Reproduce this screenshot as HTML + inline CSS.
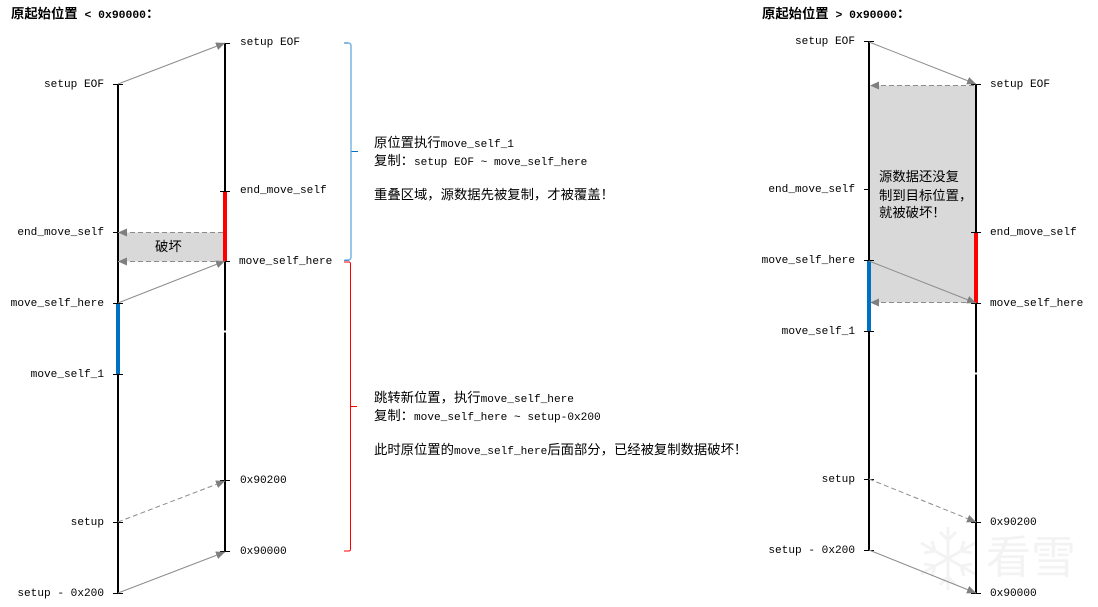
<!DOCTYPE html>
<html lang="zh"><head><meta charset="utf-8"><title>move_self</title>
<style>
html,body{margin:0;padding:0;background:#fff;width:1098px;height:607px;overflow:hidden}
svg{display:block}
text{font-family:"Liberation Mono","WenQuanYi Zen Hei",monospace;font-size:11.11px;fill:#000;white-space:pre}
.c{font-family:"Liberation Sans","WenQuanYi Zen Hei",sans-serif;font-size:13.33px}
.e{text-anchor:end}
.t{font-weight:bold;font-size:11.4px}
.t .c{font-family:"Liberation Sans","Noto Sans CJK SC",sans-serif;font-weight:bold}
.ln{stroke:#000;stroke-width:2;fill:none}
.tk{stroke:#000;stroke-width:1;fill:none}
.ar{stroke:#8c8c8c;stroke-width:1;fill:none}
.da{stroke:#8c8c8c;stroke-width:1;fill:none;stroke-dasharray:5 3}
</style></head><body>
<svg xmlns="http://www.w3.org/2000/svg" width="1098" height="607" viewBox="0 0 1098 607">
<defs>
<marker id="h" markerUnits="userSpaceOnUse" markerWidth="10" markerHeight="8" refX="9" refY="4" orient="auto"><path d="M0 0L9 4L0 8Z" fill="#7f7f7f"/></marker>
</defs>
<rect width="1098" height="607" fill="#fff"/>

<!-- watermark -->
<g stroke="#f3f3f3" stroke-width="3" fill="none">
<path d="M948 527V590M921 543L975 574M975 543L921 574"/>
<path d="M940 532L948 540L956 532M940 585L948 577L956 585M924 553L935 551L932 541M964 541L961 551L972 553M924 564L935 566L932 576M964 576L961 566L972 564"/>
</g>
<text x="986" y="573" style="font-family:'Noto Sans CJK SC',sans-serif;font-size:45px;fill:#f3f3f3">看雪</text>

<!-- titles -->
<text class="t" x="11" y="18"><tspan class="c">原起始位置</tspan> &lt; 0x90000<tspan class="c">：</tspan></text>
<text class="t" x="762" y="18"><tspan class="c">原起始位置</tspan> &gt; 0x90000<tspan class="c">：</tspan></text>

<!-- LEFT CHART -->
<rect x="118" y="232.5" width="107" height="29" fill="#d9d9d9"/>
<path class="ln" d="M118 84V593M225 43V551"/>
<path stroke="#fff" stroke-width="2" fill="none" d="M224 331.500h2"/>
<rect x="223" y="191" width="4" height="70" fill="#ff0000"/>
<rect x="116" y="303" width="4" height="71" fill="#0070c0"/>
<path class="tk" d="M113 84.500h10M220 43.500h10M220 191.500h10M113 232.500h5M220 261.500h10M113 303.500h10M113 374.500h10M220 480.500h10M113 522.500h10M220 551.500h10M113 593.500h10"/>
<path class="ar" marker-end="url(#h)" d="M118 84L225 43"/>
<path class="ar" marker-end="url(#h)" d="M118 303L225 261"/>
<path class="da" marker-end="url(#h)" d="M118 522L225 481"/>
<path class="ar" marker-end="url(#h)" d="M118 593L225 552"/>
<path class="da" marker-end="url(#h)" d="M223 232.500H118"/>
<path class="da" marker-end="url(#h)" d="M223 261.500H118"/>

<text x="240" y="45">setup EOF</text>
<text x="240" y="193">end_move_self</text>
<text x="239" y="264">move_self_here</text>
<text x="240" y="483">0x90200</text>
<text x="240" y="554">0x90000</text>
<text class="e" x="104" y="87">setup EOF</text>
<text class="e" x="104" y="235">end_move_self</text>
<text class="e" x="104" y="306">move_self_here</text>
<text class="e" x="104" y="377">move_self_1</text>
<text class="e" x="104" y="525">setup</text>
<text class="e" x="104" y="596">setup - 0x200</text>
<text class="c" x="155" y="251">破坏</text>

<!-- braces -->
<path d="M344.500 43H348Q351 43 351 46V257Q351 260 348 260H344.500" fill="none" stroke="#7ab5e3" stroke-width="1.500"/>
<path d="M351.500 151.500H358" fill="none" stroke="#0070c0" stroke-width="1"/>
<path d="M344 43h4M344 260.500h5" fill="none" stroke="#3d94d6" stroke-width="1"/>
<path d="M344 262H349Q350.500 262 350.500 264V549Q350.500 551 349 551H344" fill="none" stroke="#ff0000" stroke-width="1"/>
<path d="M350.500 406.500H357" fill="none" stroke="#ff0000" stroke-width="1"/>

<!-- description -->
<text x="374" y="147"><tspan class="c">原位置执行</tspan>move_self_1</text>
<text x="374" y="165"><tspan class="c">复制：</tspan>setup EOF ~ move_self_here</text>
<text x="374" y="199" class="c">重叠区域，源数据先被复制，才被覆盖！</text>
<text x="374" y="402"><tspan class="c">跳转新位置，执行</tspan>move_self_here</text>
<text x="374" y="420"><tspan class="c">复制：</tspan>move_self_here ~ setup-0x200</text>
<text x="374" y="454"><tspan class="c">此时原位置的</tspan>move_self_here<tspan class="c">后面部分，已经被复制数据破坏！</tspan></text>

<!-- RIGHT CHART -->
<rect x="869" y="85.500" width="107" height="217" fill="#d9d9d9"/>
<path class="ln" d="M869 42V550M976 84V593"/>
<path stroke="#fff" stroke-width="2" fill="none" d="M975 373.500h2"/>
<rect x="974" y="232" width="4" height="71" fill="#ff0000"/>
<rect x="867" y="260" width="4" height="71" fill="#0070c0"/>
<path class="tk" d="M864 41.500h10M971 84.500h10M864 189.500h5M971 232.500h10M864 260.500h10M971 303.500h10M864 331.500h10M864 479.500h10M971 522.500h10M864 550.500h10M971 593.500h10"/>
<path class="ar" marker-end="url(#h)" d="M869 42L976 84"/>
<path class="ar" marker-end="url(#h)" d="M869 261L976 303"/>
<path class="da" marker-end="url(#h)" d="M869 479L976 522"/>
<path class="ar" marker-end="url(#h)" d="M869 550L976 593"/>
<path class="da" marker-end="url(#h)" d="M974 85.500H870"/>
<path class="da" marker-end="url(#h)" d="M974 302.500H870"/>

<text class="e" x="855" y="44">setup EOF</text>
<text class="e" x="855" y="192">end_move_self</text>
<text class="e" x="855" y="263">move_self_here</text>
<text class="e" x="855" y="334">move_self_1</text>
<text class="e" x="855" y="482">setup</text>
<text class="e" x="855" y="553">setup - 0x200</text>
<text x="990" y="87">setup EOF</text>
<text x="990" y="235">end_move_self</text>
<text x="990" y="306">move_self_here</text>
<text x="990" y="525">0x90200</text>
<text x="990" y="596">0x90000</text>
<text class="c" x="879" y="181">源数据还没复</text>
<text class="c" x="879" y="200">制到目标位置，</text>
<text class="c" x="879" y="217">就被破坏！</text>
</svg>
</body></html>
